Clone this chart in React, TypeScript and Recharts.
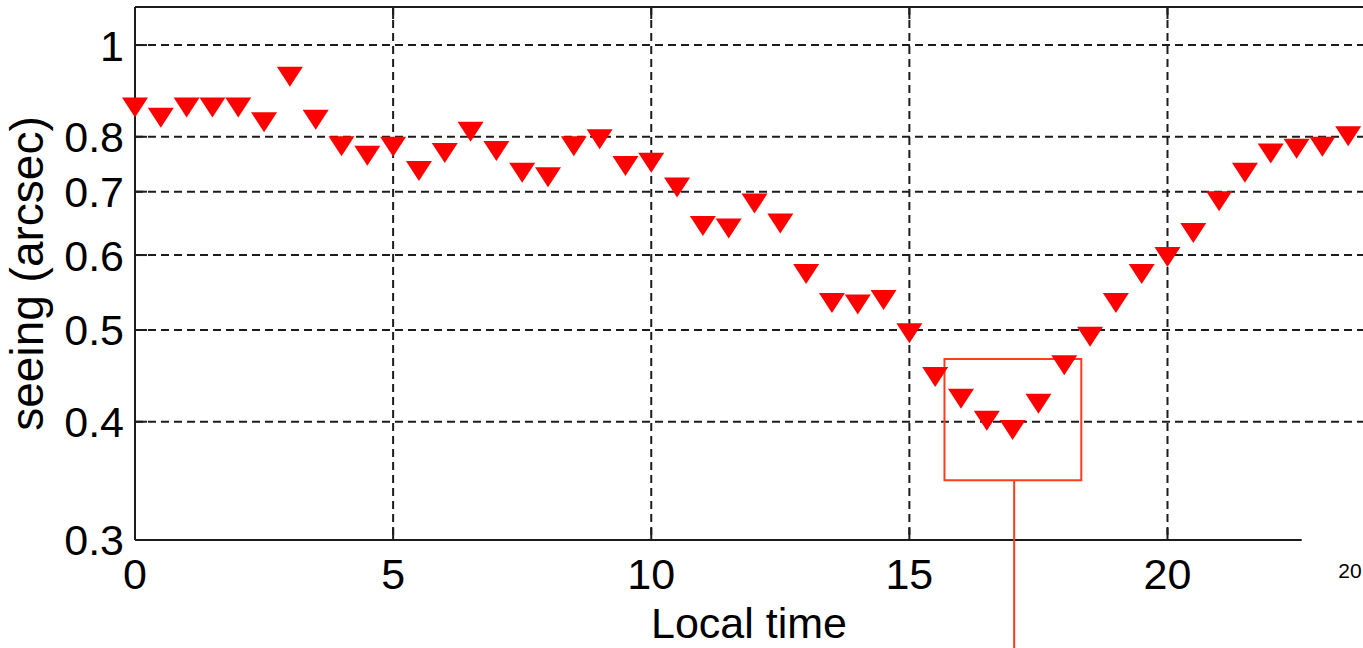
import {
  ScatterChart,
  Scatter,
  XAxis,
  YAxis,
  CartesianGrid,
  ReferenceLine,
  ReferenceArea,
  ReferenceDot,
  Label,
} from "recharts"

// local time (h) and seeing (arcsec)
const hours = [
  0, 0.5, 1, 1.5, 2, 2.5, 3, 3.5, 4, 4.5, 5, 5.5, 6, 6.5, 7, 7.5, 8, 8.5, 9, 9.5,
  10, 10.5, 11, 11.5, 12, 12.5, 13, 13.5, 14, 14.5, 15, 15.5, 16, 16.5, 17, 17.5,
  18, 18.5, 19, 19.5, 20, 20.5, 21, 21.5, 22, 22.5, 23, 23.5,
]
const seeing = [
  0.859, 0.838, 0.859, 0.859, 0.859, 0.829, 0.926, 0.834, 0.782, 0.764, 0.781,
  0.736, 0.769, 0.81, 0.773, 0.733, 0.725, 0.782, 0.795, 0.745, 0.751, 0.707,
  0.644, 0.64, 0.68, 0.648, 0.573, 0.534, 0.532, 0.538, 0.496, 0.446, 0.423,
  0.401, 0.392, 0.418, 0.459, 0.492, 0.534, 0.573, 0.597, 0.633, 0.684, 0.733,
  0.768, 0.777, 0.781, 0.801,
]
const xTicks = [0, 5, 10, 15, 20]
const yTicks = [0.3, 0.4, 0.5, 0.6, 0.7, 0.8, 1]

// annotation box around the minimum, and its pointer line
const boxX = [15.68, 18.33]
const boxY = [0.347, 0.466]
const pointerX = 17.03
const pointerEnd = 0.23

const X_MAX = 23.787
const Y_MIN = 0.3
const Y_MAX = 1.097
const AXIS_END = 22.6

const points = hours.map((t, i) => ({ t, v: seeing[i] }))

const INK = "#1c1c1c"
const RED = "#ff0000"
const NOTE = "#ff3b1e"
const FONT = "'Liberation Sans', Arial, Helvetica, sans-serif"
const PLOT_TOP = 7
const TICK = 12

function XTick({ x, y, payload }: any) {
  return (
    <g>
      <line x1={x} y1={y} x2={x} y2={y - TICK} stroke={INK} strokeWidth={2} />
      <line x1={x} y1={PLOT_TOP} x2={x} y2={PLOT_TOP + TICK} stroke={INK} strokeWidth={2} />
      <text x={x} y={y + 49} textAnchor="middle" fontSize={43} fill="#000" fontFamily={FONT}>
        {payload.value}
      </text>
    </g>
  )
}

function YTick({ x, y, payload }: any) {
  return (
    <g>
      <line x1={x} y1={y} x2={x + TICK} y2={y} stroke={INK} strokeWidth={2} />
      <text x={x - 11} y={y} dy="0.36em" textAnchor="end" fontSize={43} fill="#000" fontFamily={FONT}>
        {payload.value}
      </text>
    </g>
  )
}

function YTitle({ viewBox }: any) {
  const cy = viewBox.y + viewBox.height / 2
  return (
    <text
      transform={`translate(43, ${cy}) rotate(-90)`}
      textAnchor="middle"
      fontSize={46}
      fill="#000"
      fontFamily={FONT}
    >
      seeing (arcsec)
    </text>
  )
}

// the stray "20" at the right edge of the figure
function EdgeNote({ viewBox }: any) {
  return (
    <text x={viewBox.x} y={viewBox.y} dy="0.36em" textAnchor="end" fontSize={21} fill="#000" fontFamily={FONT}>
      20
    </text>
  )
}

// downward triangle marker, centred on the point
function Marker({ cx, cy }: any) {
  return <path d={`M${cx - 13},${cy - 10}L${cx + 13},${cy - 10}L${cx},${cy + 10}Z`} fill={RED} />
}

export default function App() {
  return (
    <div
      style={{
        position: "absolute",
        left: 0,
        top: 0,
        width: 1363,
        height: 648,
        overflow: "hidden",
        background: "#fff",
      }}
    >
      <ScatterChart width={1363} height={648} margin={{ top: PLOT_TOP, right: 0, bottom: 0, left: 0 }}>
        <CartesianGrid
          horizontalValues={[0.4, 0.5, 0.6, 0.7, 0.8, 1]}
          verticalValues={[5, 10, 15, 20]}
          stroke={INK}
          strokeWidth={2}
          strokeDasharray="8 5"
        />
        <XAxis
          type="number"
          dataKey="t"
          domain={[0, X_MAX]}
          ticks={xTicks}
          height={108}
          axisLine={false}
          tickLine={false}
          tickSize={0}
          tickMargin={0}
          tick={<XTick />}
          label={{ value: "Local time", position: "insideBottom", offset: 10, fontSize: 43, fill: "#000", fontFamily: FONT }}
        />
        <YAxis
          type="number"
          dataKey="v"
          scale="log"
          domain={[Y_MIN, Y_MAX]}
          ticks={yTicks}
          width={135}
          axisLine={{ stroke: INK, strokeWidth: 2 }}
          tickLine={false}
          tickSize={0}
          tickMargin={0}
          tick={<YTick />}
        >
          <Label content={<YTitle />} />
        </YAxis>
        <ReferenceLine y={Y_MAX} stroke={INK} strokeWidth={2} />
        <ReferenceLine
          segment={[
            { x: 0, y: Y_MIN },
            { x: AXIS_END, y: Y_MIN },
          ]}
          stroke={INK}
          strokeWidth={2}
        />
        <Scatter data={points} shape={<Marker />} isAnimationActive={false} />
        <ReferenceArea
          x1={boxX[0]}
          x2={boxX[1]}
          y1={boxY[0]}
          y2={boxY[1]}
          fill="none"
          fillOpacity={0}
          stroke={NOTE}
          strokeWidth={2}
        />
        <ReferenceLine
          segment={[
            { x: pointerX, y: boxY[0] },
            { x: pointerX, y: pointerEnd },
          ]}
          stroke={NOTE}
          strokeWidth={2}
          ifOverflow="visible"
        />
        <ReferenceDot x={23.76} y={0.2788} r={0} ifOverflow="visible" label={<EdgeNote />} />
      </ScatterChart>
    </div>
  )
}
